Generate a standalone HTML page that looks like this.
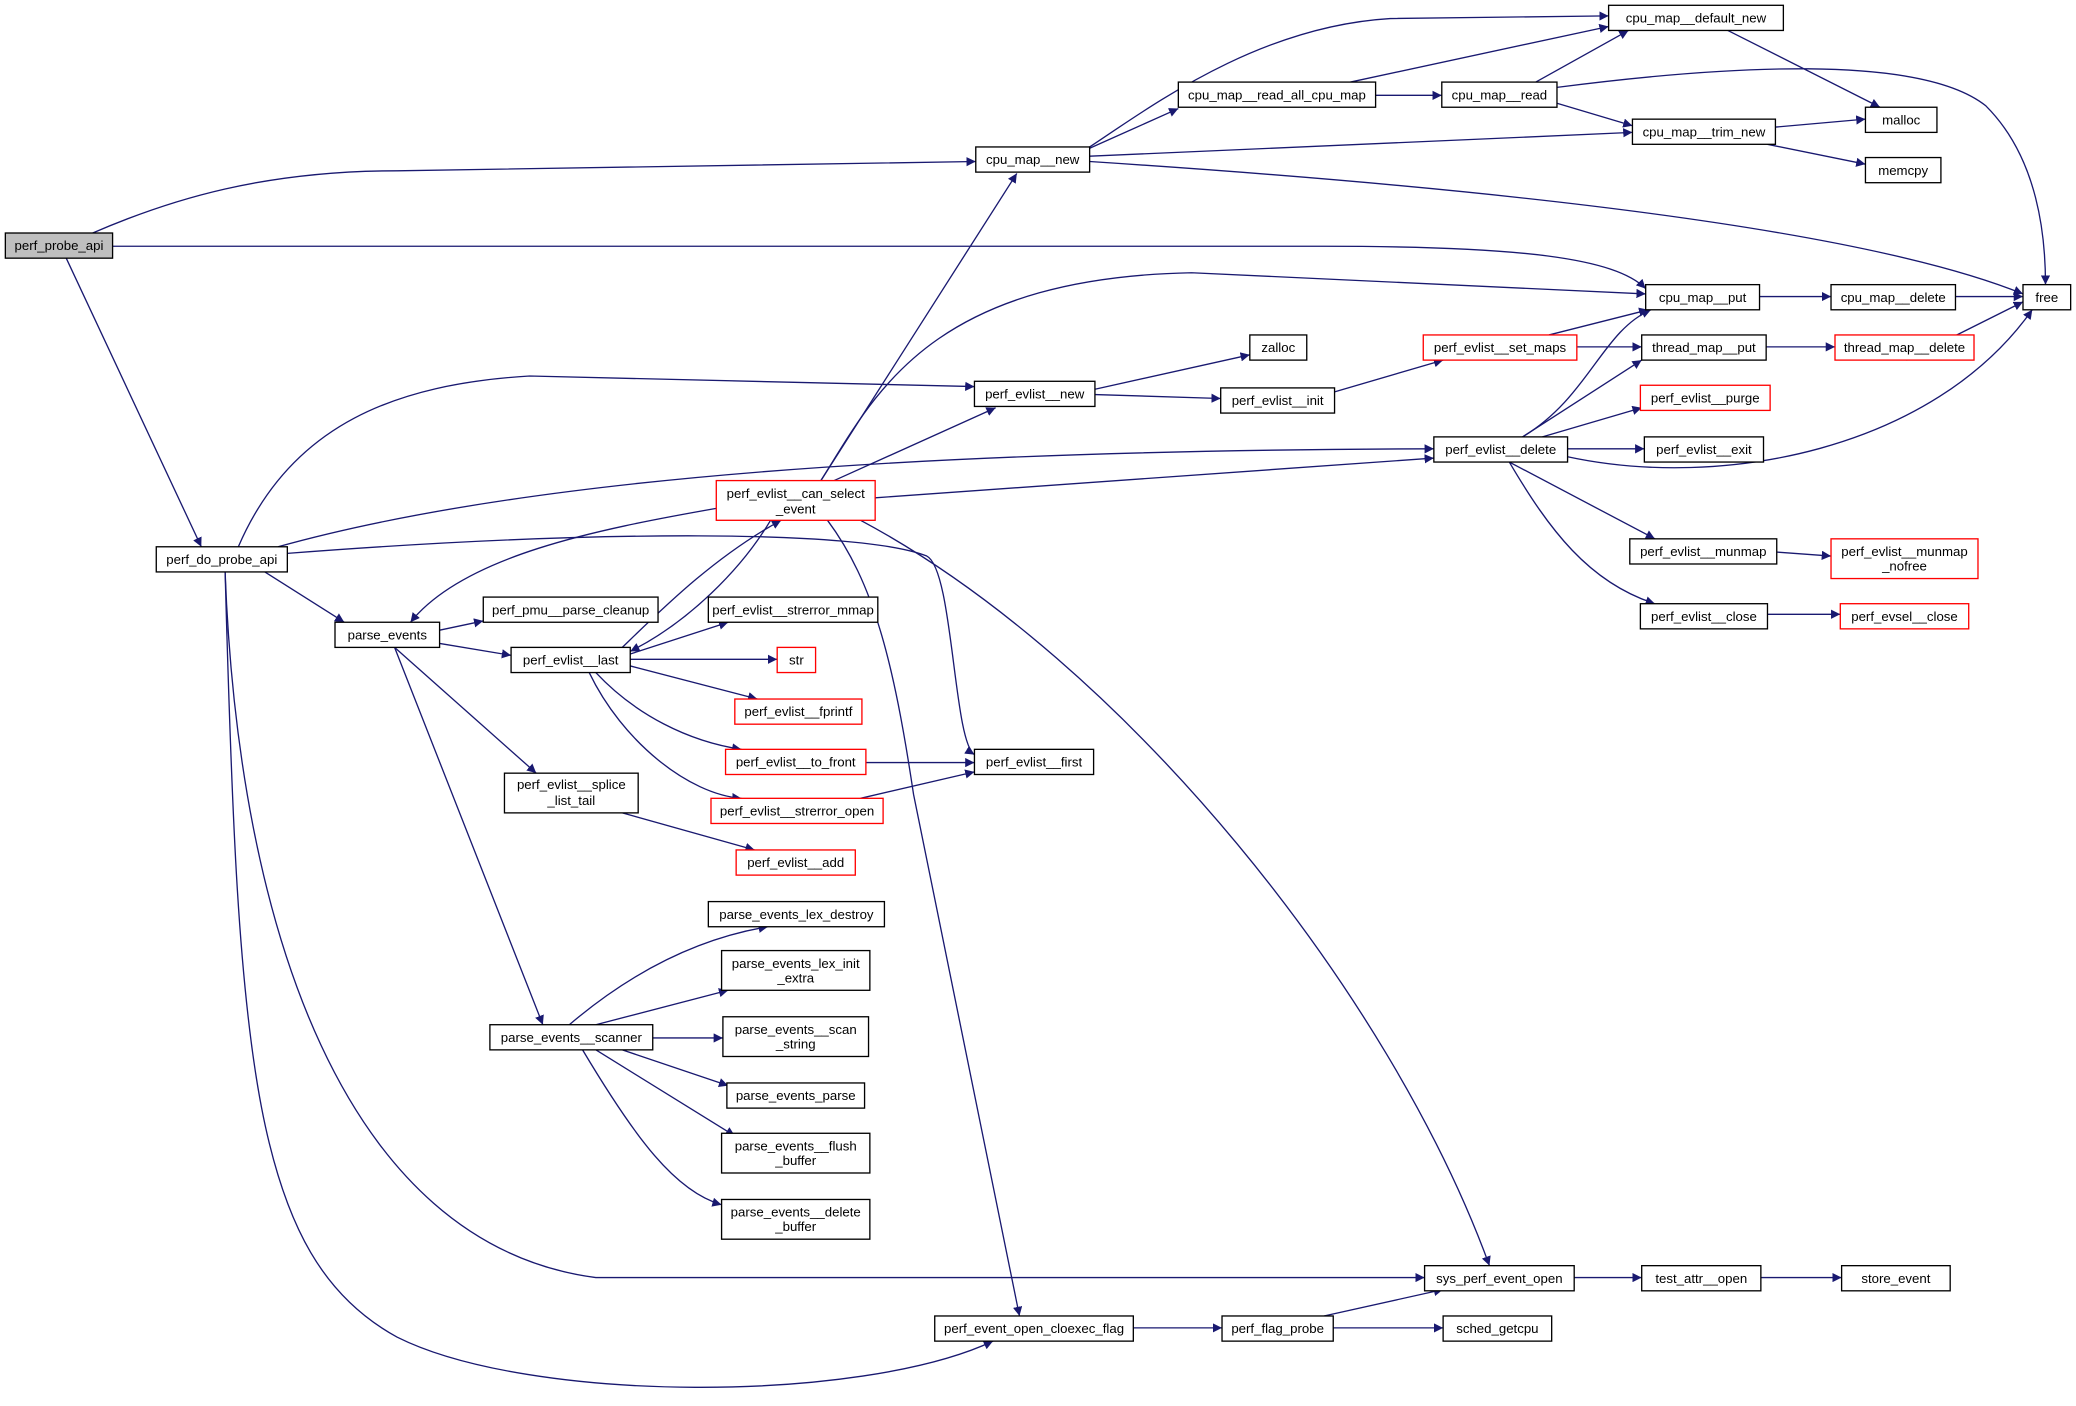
<!DOCTYPE html>
<html><head><meta charset="utf-8"><style>
html,body{margin:0;padding:0;background:#fff;}
svg{display:block}
text{font-family:"Liberation Sans",sans-serif;font-size:10px;fill:#000;text-anchor:middle}
.n{fill:#fff;stroke:#000;stroke-width:1}
.r{fill:#fff;stroke:#f00;stroke-width:1}
.e{fill:none;stroke:#191970;stroke-width:1}
</style></head><body>
<svg width="2076" height="1406" viewBox="0 0 1568 1062" xmlns="http://www.w3.org/2000/svg">
<defs><marker id="a" viewBox="0 0 10 10" refX="10" refY="5" markerWidth="7" markerHeight="7" orient="auto" markerUnits="userSpaceOnUse"><path d="M0,0L10,5L0,10z" fill="#191970"/></marker></defs>
<g class="e" marker-end="url(#a)">
<path d="M70,176 C130,150 200,129 300,129 L737,122"/>
<path d="M85,186 L1000,186 C1150,186 1220,195 1243,218"/>
<path d="M50,195 L152,413"/>
<path d="M823,111 C870,80 950,20 1050,14 L1215,12"/>
<path d="M823,112 L890,82"/>
<path d="M823,118 L1233,100"/>
<path d="M823,122 C1100,140 1400,170 1528,222"/>
<path d="M1020,62 L1215,20"/>
<path d="M1039,72 L1089,72"/>
<path d="M1160,62 L1230,23"/>
<path d="M1176,78 L1233,95"/>
<path d="M1176,66 C1300,50 1450,40 1500,80 C1540,120 1545,180 1545,215"/>
<path d="M1305,23 L1420,81"/>
<path d="M1341,96 L1409,90"/>
<path d="M1335,109 L1409,124"/>
<path d="M1329,224 L1383,224"/>
<path d="M1477,224 L1528,224"/>
<path d="M1334,262 L1386,262"/>
<path d="M1440,272 L1528,228"/>
<path d="M180,413 C220,320 300,290 400,284 L736,292"/>
<path d="M210,413 C400,360 700,340 1083,339"/>
<path d="M217,418 C450,400 650,400 700,420 C720,430 720,560 736,570"/>
<path d="M200,432 L260,470"/>
<path d="M170,432 C180,700 260,940 450,965 L1076,965"/>
<path d="M170,432 C180,800 190,950 300,1010 C400,1060 650,1060 750,1013"/>
<path d="M827,294 L944,268"/>
<path d="M827,298 L922,301"/>
<path d="M1008,296 L1090,272"/>
<path d="M1170,253 L1245,234"/>
<path d="M1191,262 L1240,262"/>
<path d="M1150,330 C1200,300 1210,250 1247,234"/>
<path d="M1150,330 L1240,272"/>
<path d="M1165,330 L1240,308"/>
<path d="M1184,339 L1242,339"/>
<path d="M1184,345 C1300,370 1460,340 1535,234"/>
<path d="M1140,349 L1250,407"/>
<path d="M1140,349 C1170,400 1200,440 1250,456"/>
<path d="M1342,417 L1383,420"/>
<path d="M1335,464 L1390,464"/>
<path d="M620,363 L768,131"/>
<path d="M620,363 C660,300 700,210 900,206 L1243,222"/>
<path d="M630,363 L752,308"/>
<path d="M661,376 L1083,346"/>
<path d="M541,384 C450,400 350,420 310,470"/>
<path d="M582,393 C560,430 520,470 476,492"/>
<path d="M625,393 C660,440 675,500 690,600 L770,994"/>
<path d="M650,393 C850,500 1050,750 1125,956"/>
<path d="M332,476 L365,469"/>
<path d="M332,486 L386,495"/>
<path d="M298,489 L405,584"/>
<path d="M298,489 L410,774"/>
<path d="M476,494 L550,470"/>
<path d="M476,498 L587,498"/>
<path d="M476,503 L572,528"/>
<path d="M470,489 C500,460 540,420 590,393"/>
<path d="M450,508 C480,540 520,560 560,566"/>
<path d="M445,508 C470,560 520,600 560,603"/>
<path d="M654,576 L736,576"/>
<path d="M650,603 L736,583"/>
<path d="M470,614 L570,642"/>
<path d="M430,774 C470,740 520,710 580,700"/>
<path d="M450,774 L550,748"/>
<path d="M493,784 L546,784"/>
<path d="M470,793 L550,820"/>
<path d="M450,793 L555,858"/>
<path d="M440,793 C480,860 510,900 545,910"/>
<path d="M1189,965 L1240,965"/>
<path d="M1330,965 L1391,965"/>
<path d="M856,1003 L923,1003"/>
<path d="M1000,994 L1090,974"/>
<path d="M1007,1003 L1090,1003"/>
</g>
<g>
<rect x="4" y="176" width="81" height="19" fill="#bfbfbf" stroke="#000"/><text x="44.5" y="189">perf_probe_api</text>
<rect class="n" x="118" y="413" width="99" height="19"/><text x="167.5" y="426">perf_do_probe_api</text>
<rect class="n" x="737" y="111" width="86" height="19"/><text x="780" y="124">cpu_map__new</text>
<rect class="n" x="1215" y="4" width="132" height="19"/><text x="1281" y="17">cpu_map__default_new</text>
<rect class="n" x="890" y="62" width="149" height="19"/><text x="964.5" y="75">cpu_map__read_all_cpu_map</text>
<rect class="n" x="1089" y="62" width="87" height="19"/><text x="1132.5" y="75">cpu_map__read</text>
<rect class="n" x="1409" y="81" width="54" height="19"/><text x="1436" y="94">malloc</text>
<rect class="n" x="1233" y="90" width="108" height="19"/><text x="1287" y="103">cpu_map__trim_new</text>
<rect class="n" x="1409" y="119" width="57" height="19"/><text x="1437.5" y="132">memcpy</text>
<rect class="n" x="1528" y="215" width="36" height="19"/><text x="1546" y="228">free</text>
<rect class="n" x="1243" y="215" width="86" height="19"/><text x="1286" y="228">cpu_map__put</text>
<rect class="n" x="1383" y="215" width="94" height="19"/><text x="1430" y="228">cpu_map__delete</text>
<rect class="n" x="944" y="253" width="43" height="19"/><text x="965.5" y="266">zalloc</text>
<rect class="n" x="736" y="288" width="91" height="19"/><text x="781.5" y="301">perf_evlist__new</text>
<rect class="n" x="922" y="293" width="86" height="19"/><text x="965" y="306">perf_evlist__init</text>
<rect class="r" x="1075" y="253" width="116" height="19"/><text x="1133" y="266">perf_evlist__set_maps</text>
<rect class="n" x="1240" y="253" width="94" height="19"/><text x="1287" y="266">thread_map__put</text>
<rect class="r" x="1386" y="253" width="105" height="19"/><text x="1438.5" y="266">thread_map__delete</text>
<rect class="r" x="1239" y="291" width="98" height="19"/><text x="1288" y="304">perf_evlist__purge</text>
<rect class="n" x="1083" y="330" width="101" height="19"/><text x="1133.5" y="343">perf_evlist__delete</text>
<rect class="n" x="1242" y="330" width="90" height="19"/><text x="1287" y="343">perf_evlist__exit</text>
<rect class="r" x="541" y="363" width="120" height="30"/><text x="601" y="376">perf_evlist__can_select</text><text x="601" y="388">_event</text>
<rect class="n" x="1231" y="407" width="111" height="19"/><text x="1286.5" y="420">perf_evlist__munmap</text>
<rect class="r" x="1383" y="407" width="111" height="30"/><text x="1438.5" y="420">perf_evlist__munmap</text><text x="1438.5" y="431">_nofree</text>
<rect class="n" x="1239" y="456" width="96" height="19"/><text x="1287" y="469">perf_evlist__close</text>
<rect class="r" x="1390" y="456" width="97" height="19"/><text x="1438.5" y="469">perf_evsel__close</text>
<rect class="n" x="253" y="470" width="79" height="19"/><text x="292.5" y="483">parse_events</text>
<rect class="n" x="365" y="451" width="132" height="19"/><text x="431" y="464">perf_pmu__parse_cleanup</text>
<rect class="n" x="535" y="451" width="128" height="19"/><text x="599" y="464">perf_evlist__strerror_mmap</text>
<rect class="n" x="386" y="489" width="90" height="19"/><text x="431" y="502">perf_evlist__last</text>
<rect class="r" x="587" y="489" width="29" height="19"/><text x="601.5" y="502">str</text>
<rect class="r" x="555" y="528" width="96" height="19"/><text x="603" y="541">perf_evlist__fprintf</text>
<rect class="r" x="548" y="566" width="106" height="19"/><text x="601" y="579">perf_evlist__to_front</text>
<rect class="n" x="736" y="566" width="90" height="19"/><text x="781" y="579">perf_evlist__first</text>
<rect class="n" x="381" y="584" width="101" height="30"/><text x="431.5" y="596">perf_evlist__splice</text><text x="431.5" y="608">_list_tail</text>
<rect class="r" x="537" y="603" width="130" height="19"/><text x="602" y="616">perf_evlist__strerror_open</text>
<rect class="r" x="556" y="642" width="90" height="19"/><text x="601" y="655">perf_evlist__add</text>
<rect class="n" x="535" y="681" width="133" height="19"/><text x="601.5" y="694">parse_events_lex_destroy</text>
<rect class="n" x="545" y="718" width="112" height="30"/><text x="601" y="731">parse_events_lex_init</text><text x="601" y="742">_extra</text>
<rect class="n" x="370" y="774" width="123" height="19"/><text x="431.5" y="787">parse_events__scanner</text>
<rect class="n" x="546" y="768" width="110" height="30"/><text x="601" y="781">parse_events__scan</text><text x="601" y="792">_string</text>
<rect class="n" x="549" y="818" width="104" height="19"/><text x="601" y="831">parse_events_parse</text>
<rect class="n" x="545" y="856" width="112" height="30"/><text x="601" y="869">parse_events__flush</text><text x="601" y="880">_buffer</text>
<rect class="n" x="545" y="906" width="112" height="30"/><text x="601" y="919">parse_events__delete</text><text x="601" y="930">_buffer</text>
<rect class="n" x="1076" y="956" width="113" height="19"/><text x="1132.5" y="969">sys_perf_event_open</text>
<rect class="n" x="1240" y="956" width="90" height="19"/><text x="1285" y="969">test_attr__open</text>
<rect class="n" x="1391" y="956" width="82" height="19"/><text x="1432" y="969">store_event</text>
<rect class="n" x="706" y="994" width="150" height="19"/><text x="781" y="1007">perf_event_open_cloexec_flag</text>
<rect class="n" x="923" y="994" width="84" height="19"/><text x="965" y="1007">perf_flag_probe</text>
<rect class="n" x="1090" y="994" width="82" height="19"/><text x="1131" y="1007">sched_getcpu</text>
</g>
</svg>
</body></html>
